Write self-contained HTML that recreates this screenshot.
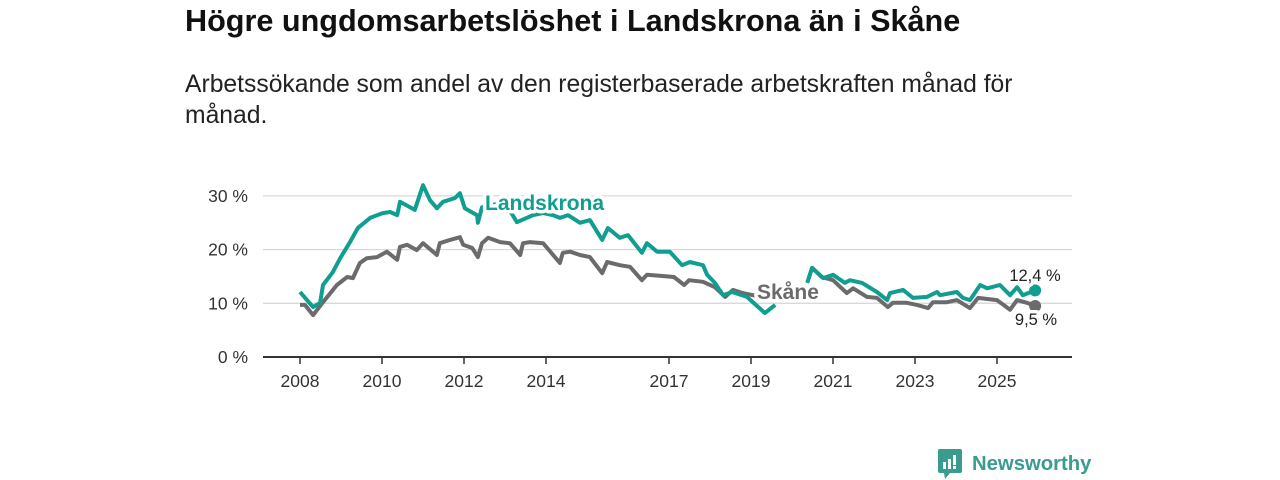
<!DOCTYPE html>
<html><head><meta charset="utf-8">
<style>
body{margin:0;background:#fff;width:1280px;height:480px;overflow:hidden;font-family:"Liberation Sans","DejaVu Sans",sans-serif;color:#111}
#title{position:absolute;left:185px;top:4px;font-size:30.6px;font-weight:bold;margin:0;white-space:nowrap}
#sub{position:absolute;left:185px;top:69px;font-size:24.7px;line-height:31px;width:860px;color:#222}
svg{position:absolute;left:0;top:0}
#logo{position:absolute;left:938px;top:449px;display:flex;align-items:center}
</style></head><body>
<h1 id="title">Högre ungdomsarbetslöshet i Landskrona än i Skåne</h1>
<div id="sub">Arbetssökande som andel av den registerbaserade arbetskraften månad för månad.</div>
<svg id="chart" width="1280" height="480"></svg>
<div id="logo">
<svg width="26" height="30" style="position:static"><rect x="0" y="0" width="24" height="24" rx="2" fill="#3a9b8f"/><polygon points="6,24 12,24 7,30" fill="#3a9b8f"/><rect x="5" y="13" width="3" height="7" fill="#fff"/><rect x="10" y="10" width="3" height="10" fill="#fff"/><rect x="15" y="6" width="3" height="10" fill="#fff"/><rect x="15" y="17" width="3" height="3" fill="#fff"/></svg>
<span style="font-size:20.3px;color:#3a9b8f;margin-left:8px;font-weight:bold">Newsworthy</span>
</div>
<script>
const yTicks=[0,10,20,30];
const xTicks=[2008,2010,2012,2014,2017,2019,2021,2023,2025];
const landYears=[2008.0,2008.32,2008.49,2008.56,2008.8,2008.98,2009.22,2009.41,2009.71,2010.02,2010.2,2010.37,2010.44,2010.8,2011.0,2011.17,2011.34,2011.49,2011.78,2011.9,2012.02,2012.32,2012.34,2012.44,2012.8,2013.1,2013.29,2013.68,2013.93,2014.17,2014.34,2014.54,2014.83,2015.07,2015.37,2015.51,2015.8,2016.0,2016.34,2016.46,2016.71,2017.02,2017.32,2017.51,2017.83,2017.93,2018.12,2018.32,2018.54,2018.9,2019.34,2019.59,null,2020.37,2020.49,2020.76,2021.0,2021.29,2021.41,2021.71,2022.07,2022.32,2022.39,2022.71,2022.95,2023.29,2023.54,2023.61,2024.02,2024.17,2024.34,2024.59,2024.76,2025.07,2025.32,2025.49,2025.63,2025.93];
const landVals=[12.1,9.3,10.1,13.4,15.8,18.4,21.4,24.0,25.9,26.8,27.0,26.4,28.9,27.4,32.0,29.2,27.7,28.9,29.6,30.5,27.7,26.4,25.0,27.9,28.5,27.5,25.1,26.4,26.8,26.4,25.9,26.4,25.0,25.5,21.8,24.0,22.2,22.7,19.4,21.2,19.6,19.6,17.1,17.7,17.1,15.3,13.8,11.5,12.1,11.2,8.2,9.7,null,13.8,16.6,14.7,15.3,13.8,14.3,13.8,12.1,10.6,11.9,12.5,11.0,11.2,12.1,11.5,12.1,11.0,10.6,13.4,12.8,13.4,11.5,13.0,11.5,12.4];
const skaneYears=[2008.0,2008.12,2008.32,2008.56,2008.9,2009.15,2009.29,2009.46,2009.63,2009.88,2010.12,2010.37,2010.44,2010.61,2010.85,2011.0,2011.34,2011.41,2011.66,2011.9,2011.98,2012.2,2012.34,2012.44,2012.59,2012.88,2013.12,2013.37,2013.44,2013.61,2013.93,2014.34,2014.41,2014.59,2014.83,2015.07,2015.37,2015.49,2015.8,2016.05,2016.34,2016.46,2016.95,2017.12,2017.37,2017.49,2017.83,2018.12,2018.37,2018.56,2018.8,2019.05,2019.3,null,2020.4,2020.49,2020.73,2021.0,2021.34,2021.49,2021.83,2022.07,2022.34,2022.46,2022.8,2023.05,2023.32,2023.44,2023.78,2024.02,2024.34,2024.54,2025.0,2025.32,2025.49,2025.73,2025.93];
const skaneVals=[9.7,9.7,7.8,10.2,13.4,14.9,14.7,17.5,18.4,18.6,19.6,18.1,20.5,20.9,19.9,21.2,19.0,21.2,21.8,22.3,20.9,20.3,18.6,21.2,22.2,21.4,21.2,19.0,21.2,21.4,21.2,17.5,19.4,19.6,19.0,18.6,15.6,17.7,17.1,16.8,14.3,15.3,15.0,14.9,13.4,14.3,14.0,13.0,11.2,12.5,11.9,11.5,11.3,null,14.5,16.6,14.9,14.3,11.9,12.8,11.2,11.0,9.3,10.1,10.1,9.7,9.1,10.2,10.2,10.6,9.1,11.0,10.6,8.8,10.6,10.1,9.5];
const NS='http://www.w3.org/2000/svg';
const svg=document.getElementById('chart');
const X=y=>300+(y-2008)*41.0;
const Y=v=>357-v*5.37;
function mk(tag,attrs,parent){const e=document.createElementNS(NS,tag);for(const k in attrs)e.setAttribute(k,attrs[k]);(parent||svg).appendChild(e);return e;}
yTicks.forEach(t=>{
  if(t>0){const g=mk('line',{x1:263,x2:1072,y1:Y(t),y2:Y(t),stroke:'#d9d9d9','stroke-width':1.3});
  
  }
  const l=mk('text',{x:248,y:Y(t)+6,'text-anchor':'end','font-size':17.5,fill:'#333'});l.textContent=t+' %';
  
  
});
const ax=mk('line',{x1:263,x2:1072,y1:357,y2:357,stroke:'#333','stroke-width':2});


xTicks.forEach(t=>{
  const tk=mk('line',{x1:X(t),x2:X(t),y1:357,y2:364,stroke:'#333','stroke-width':1.5});
  
  
  const l=mk('text',{x:X(t),y:387,'text-anchor':'middle','font-size':17.5,fill:'#333'});l.textContent=t;
  
  
});
function pathOf(xs,vs){let d='',pen=false;xs.forEach((x,i)=>{if(x===null||vs[i]===null){pen=false;return;}d+=(pen?'L':'M')+X(x).toFixed(1)+','+Y(vs[i]).toFixed(1);pen=true;});return d;}
const sk=mk('path',{d:pathOf(skaneYears,skaneVals),fill:'none',stroke:'#6b6b6e','stroke-width':4,'stroke-linejoin':'round'});


const la=mk('path',{d:pathOf(landYears,landVals),fill:'none',stroke:'#0f9e90','stroke-width':4,'stroke-linejoin':'round'});


const lastL=landVals[landVals.length-1],lastS=skaneVals[skaneVals.length-1];
const dS=mk('circle',{cx:X(skaneYears[skaneYears.length-1]),cy:Y(lastS),r:6,fill:'#6b6b6e'});


const dL=mk('circle',{cx:X(landYears[landYears.length-1]),cy:Y(lastL),r:6,fill:'#0f9e90'});


function lbl(txt,x,y,opt,name){const t=mk('text',Object.assign({x:x,y:y,stroke:'#fff','stroke-width':7,'paint-order':'stroke','stroke-linejoin':'round'},opt));t.textContent=txt;

}
lbl('Landskrona',485,210,{'font-size':21,'font-weight':'bold',fill:'#0f9e90'},'landskrona-label');
lbl('Skåne',757,299,{'font-size':21,'font-weight':'bold',fill:'#6b6b6e'},'skane-label');
lbl(String(lastL).replace('.',',')+' %',1035,281,{'font-size':16.5,'text-anchor':'middle',fill:'#222'},'landskrona-end-value');
lbl(String(lastS).replace('.',',')+' %',1036,325,{'font-size':16.5,'text-anchor':'middle',fill:'#222'},'skane-end-value');
</script>
</body></html>
